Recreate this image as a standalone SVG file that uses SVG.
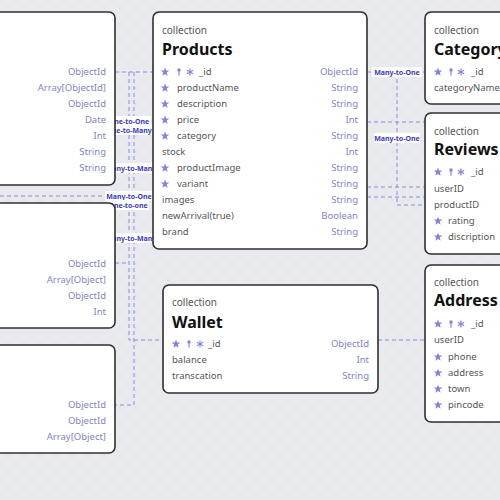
<svg xmlns="http://www.w3.org/2000/svg" xmlns:xlink="http://www.w3.org/1999/xlink" width="500" height="500" viewBox="0 0 500 500">
<style>
.bg{fill:#e9eaee}
.node{fill:#ffffff;stroke:#2e2e33;stroke-width:1.6}
.col{font-family:"Noto Sans","Open Sans",sans-serif;font-size:10px;fill:#555}
.title{font-family:"Noto Sans","Open Sans",sans-serif;font-size:16px;font-weight:bold;fill:#111}
.f{font-family:"Noto Sans","Open Sans",sans-serif;font-size:9.5px;fill:#555}
.t{font-family:"Noto Sans","Open Sans",sans-serif;font-size:9.5px;fill:#8083c9;text-anchor:end}
.ln{fill:none;stroke:#8a8be0;stroke-width:1;stroke-dasharray:4 3}
.lb{fill:#ffffff}
.lt{font-family:"Noto Sans","Open Sans",sans-serif;font-size:7px;font-weight:bold;fill:#3a3ac0;text-anchor:middle}
.ic{fill:#8385dc}
.sn{stroke:#8385dc;stroke-width:1.2;fill:none}
</style>
<defs>
<pattern id="dots" width="16" height="16" patternUnits="userSpaceOnUse">
<circle cx="8" cy="8" r="0.7" fill="#c4c5cd"/>
</pattern>
<path id="star" class="ic" d="M0,-4.5 L1.12,-1.54 4.28,-1.39 1.81,0.59 2.65,3.64 0,1.9 -2.65,3.64 -1.81,0.59 -4.28,-1.39 -1.12,-1.54 Z"/>
<g id="key" class="ic"><circle cx="0" cy="-2" r="1.7"/><rect x="-0.6" y="-1" width="1.2" height="4.6"/></g>
<g id="snow" class="sn"><line x1="0" y1="-3.6" x2="0" y2="3.6"/><line x1="-3.1" y1="-1.8" x2="3.1" y2="1.8"/><line x1="-3.1" y1="1.8" x2="3.1" y2="-1.8"/></g>
</defs>
<rect class="bg" x="0" y="0" width="500" height="500"/>
<rect x="0" y="0" width="500" height="500" fill="url(#dots)"/>

<g id="connectors">
<path class="ln" d="M115,72 H153"/>
<path class="ln" d="M129,72 V340 H163"/>
<path class="ln" d="M134,72 V405 H115"/>
<path class="ln" d="M0,196 H134"/>
<path class="ln" d="M115,263 H129"/>
<path class="ln" d="M367,72 H425"/>
<path class="ln" d="M397,72 V205 H425"/>
<path class="ln" d="M367,122 H425"/>
<path class="ln" d="M367,187 H425"/>
<path class="ln" d="M367,197 H425"/>
<path class="ln" d="M378,340 H425"/>
<rect class="lb" x="107" y="116" width="44" height="10"/><text class="lt" x="129" y="123.5">One-to-One</text>
<rect class="lb" x="106" y="125" width="46" height="10"/><text class="lt" x="129" y="132.5">One-to-Many</text>
<rect class="lb" x="106" y="163" width="50" height="10"/><text class="lt" x="131" y="170.5">Many-to-Many</text>
<rect class="lb" x="105" y="191" width="48" height="10"/><text class="lt" x="129" y="198.5">Many-to-One</text>
<rect class="lb" x="107" y="200" width="42" height="10"/><text class="lt" x="128" y="207.5">One-to-one</text>
<rect class="lb" x="106" y="233" width="50" height="10"/><text class="lt" x="131" y="240.5">Many-to-Many</text>
<rect class="lb" x="372" y="67" width="50" height="10"/><text class="lt" x="397" y="74.5">Many-to-One</text>
<rect class="lb" x="374" y="133" width="46" height="10"/><text class="lt" x="397" y="140.5">Many-to-One</text>
</g>

<g id="left1">
<rect class="node" x="-20" y="12" width="135" height="173" rx="6"/>
<text class="t" x="106" y="75.4">ObjectId</text>
<text class="t" x="106" y="91.4">Array[ObjectId]</text>
<text class="t" x="106" y="107.4">ObjectId</text>
<text class="t" x="106" y="123.4">Date</text>
<text class="t" x="106" y="139.4">Int</text>
<text class="t" x="106" y="155.4">String</text>
<text class="t" x="106" y="171.4">String</text>
</g>

<g id="left2">
<rect class="node" x="-20" y="203" width="135" height="125" rx="6"/>
<text class="t" x="106" y="267.4">ObjectId</text>
<text class="t" x="106" y="283.4">Array[Object]</text>
<text class="t" x="106" y="299.4">ObjectId</text>
<text class="t" x="106" y="315.4">Int</text>
</g>

<g id="left3">
<rect class="node" x="-20" y="345" width="135" height="108" rx="6"/>
<text class="t" x="106" y="408.4">ObjectId</text>
<text class="t" x="106" y="424.4">ObjectId</text>
<text class="t" x="106" y="440.4">Array[Object]</text>
</g>

<g id="products">
<rect class="node" x="153" y="12" width="214" height="237" rx="6"/>
<text class="col" x="162" y="34">collection</text>
<text class="title" x="162" y="55">Products</text>
<use href="#star" x="165" y="72"/><use href="#key" x="179" y="72"/><use href="#snow" x="190" y="72"/>
<text class="f" x="199" y="75.4">_id</text><text class="t" x="358" y="75.4">ObjectId</text>
<use href="#star" x="165" y="88"/><text class="f" x="177" y="91.4">productName</text><text class="t" x="358" y="91.4">String</text>
<use href="#star" x="165" y="104"/><text class="f" x="177" y="107.4">description</text><text class="t" x="358" y="107.4">String</text>
<use href="#star" x="165" y="120"/><text class="f" x="177" y="123.4">price</text><text class="t" x="358" y="123.4">Int</text>
<use href="#star" x="165" y="136"/><text class="f" x="177" y="139.4">category</text><text class="t" x="358" y="139.4">String</text>
<text class="f" x="162" y="155.4">stock</text><text class="t" x="358" y="155.4">Int</text>
<use href="#star" x="165" y="168"/><text class="f" x="177" y="171.4">productImage</text><text class="t" x="358" y="171.4">String</text>
<use href="#star" x="165" y="184"/><text class="f" x="177" y="187.4">variant</text><text class="t" x="358" y="187.4">String</text>
<text class="f" x="162" y="203.4">images</text><text class="t" x="358" y="203.4">String</text>
<text class="f" x="162" y="219.4">newArrival(true)</text><text class="t" x="358" y="219.4">Boolean</text>
<text class="f" x="162" y="235.4">brand</text><text class="t" x="358" y="235.4">String</text>
</g>

<g id="wallet">
<rect class="node" x="163" y="285" width="215" height="108" rx="6"/>
<text class="col" x="172" y="305.5">collection</text>
<text class="title" x="172" y="327.5">Wallet</text>
<use href="#star" x="176" y="344"/><use href="#key" x="189" y="344"/><use href="#snow" x="200" y="344"/>
<text class="f" x="208" y="347.4">_id</text><text class="t" x="369" y="347.4">ObjectId</text>
<text class="f" x="172" y="363.4">balance</text><text class="t" x="369" y="363.4">Int</text>
<text class="f" x="172" y="379.4">transcation</text><text class="t" x="369" y="379.4">String</text>
</g>

<g id="category">
<rect class="node" x="425" y="12" width="100" height="92" rx="6"/>
<text class="col" x="434" y="34">collection</text>
<text class="title" x="434" y="55">Category</text>
<use href="#star" x="438" y="72"/><use href="#key" x="451" y="72"/><use href="#snow" x="461" y="72"/>
<text class="f" x="471" y="75.4">_id</text>
<text class="f" x="434" y="91.4">categoryName</text>
</g>

<g id="reviews">
<rect class="node" x="425" y="113" width="100" height="141" rx="6"/>
<text class="col" x="434" y="134.5">collection</text>
<text class="title" x="434" y="155">Reviews</text>
<use href="#star" x="438" y="172"/><use href="#key" x="451" y="172"/><use href="#snow" x="461" y="172"/>
<text class="f" x="471" y="175.4">_id</text>
<text class="f" x="434" y="192.4">userID</text>
<text class="f" x="434" y="208.4">productID</text>
<use href="#star" x="438" y="221"/><text class="f" x="448" y="224.4">rating</text>
<use href="#star" x="438" y="237"/><text class="f" x="448" y="240.4">discription</text>
</g>

<g id="address">
<rect class="node" x="425" y="265" width="100" height="157" rx="6"/>
<text class="col" x="434" y="285.5">collection</text>
<text class="title" x="434" y="306">Address</text>
<use href="#star" x="438" y="324"/><use href="#key" x="451" y="324"/><use href="#snow" x="461" y="324"/>
<text class="f" x="471" y="327.4">_id</text>
<text class="f" x="434" y="343.4">userID</text>
<use href="#star" x="438" y="357"/><text class="f" x="448" y="360.4">phone</text>
<use href="#star" x="438" y="373"/><text class="f" x="448" y="376.4">address</text>
<use href="#star" x="438" y="389"/><text class="f" x="448" y="392.4">town</text>
<use href="#star" x="438" y="405"/><text class="f" x="448" y="408.4">pincode</text>
</g>
</svg>
